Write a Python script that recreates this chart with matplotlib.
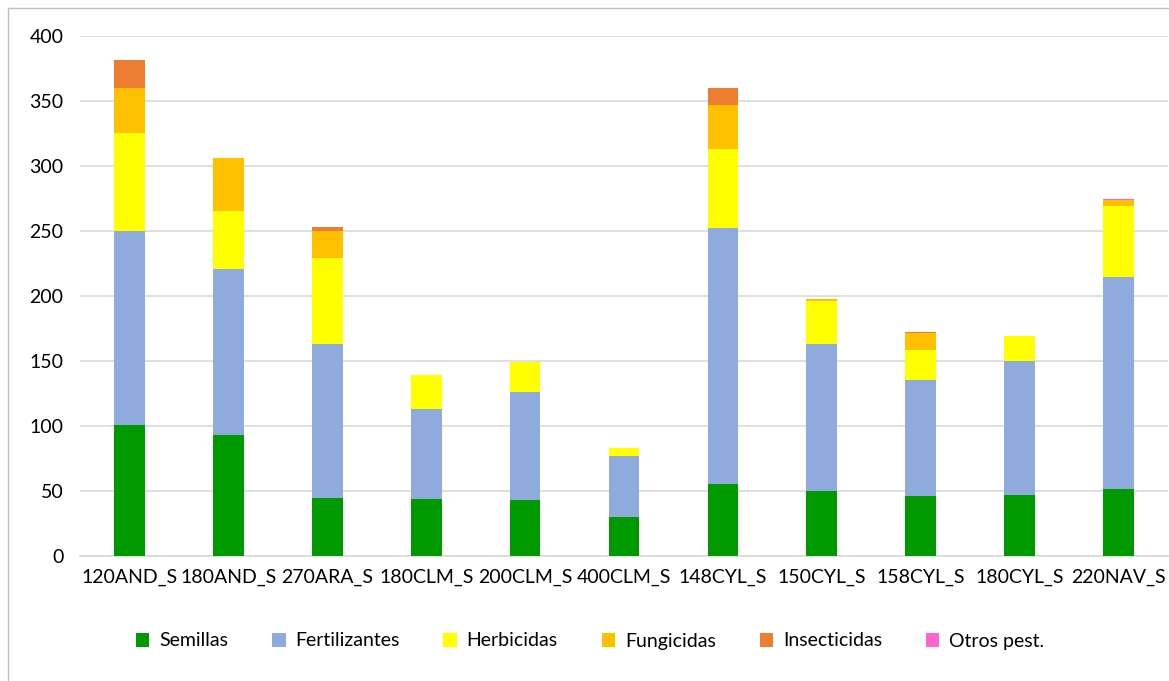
import matplotlib
matplotlib.use("Agg")
import matplotlib.pyplot as plt
import numpy as np

categories = ["120AND_S", "180AND_S", "270ARA_S", "180CLM_S", "200CLM_S", "400CLM_S",
              "148CYL_S", "150CYL_S", "158CYL_S", "180CYL_S", "220NAV_S"]
semillas = [100.5, 92.8, 44.4, 43.6, 43.1, 30.0, 55.4, 49.8, 45.9, 46.7, 51.8]
fertilizantes = [149.5, 127.7, 118.2, 69.2, 82.8, 47.2, 196.4, 113.0, 89.1, 103.1, 162.8]
herbicidas = [75.4, 44.4, 66.6, 26.2, 22.9, 5.9, 61.0, 33.0, 23.2, 19.2, 54.4]
fungicidas = [34.4, 41.3, 20.8, 0.0, 0.0, 0.0, 33.6, 1.5, 13.3, 0.0, 4.6]
insecticidas = [21.5, 0.0, 2.8, 0.0, 0.0, 0.0, 13.6, 0.0, 0.8, 0.0, 0.0]
otros = [0.0, 0.0, 0.0, 0.0, 0.0, 0.0, 0.0, 0.0, 0.0, 0.0, 0.8]

series_names = ["Semillas", "Fertilizantes", "Herbicidas", "Fungicidas", "Insecticidas", "Otros pest."]
series = [semillas, fertilizantes, herbicidas, fungicidas, insecticidas, otros]
colors = ["#009900", "#8FAADC", "#FFFF00", "#FFC000", "#ED7D31", "#FF66CC"]
yticks = [0, 50, 100, 150, 200, 250, 300, 350, 400]

plt.rcParams['font.family'] = ['Lato', 'DejaVu Sans']

fig = plt.figure(figsize=(11.69, 6.81), dpi=100)
ax = fig.add_axes([80/1169, 1-556/681, (1168-80)/1169, (556-35.7)/681])

x = np.arange(len(categories))
bottom = np.zeros(len(categories))
handles = []
for name, vals, c in zip(series_names, series, colors):
    v = np.array(vals)
    b = ax.bar(x, v, width=0.31, bottom=bottom, color=c, label=name, zorder=3)
    handles.append(b)
    bottom += v

ax.set_xlim(-0.5, len(categories) - 0.5)
ax.set_ylim(0, 400)
ax.set_yticks(yticks)
ax.set_xticks(x)
ax.set_xticklabels(categories, fontsize=14, color="#000000")
ax.tick_params(axis='y', labelsize=14, length=0, pad=12)
ax.tick_params(axis='x', length=0, pad=9)
ax.grid(axis='y', color="#d9d9d9", linewidth=1.2, zorder=0)
for s in ["top", "right", "left"]:
    ax.spines[s].set_visible(False)
ax.spines["bottom"].set_color("#d9d9d9")
ax.spines["bottom"].set_linewidth(1.2)

leg = fig.legend(handles=handles, labels=series_names, loc="center", bbox_to_anchor=(590/1169, 1-641/681),
                 ncol=6, frameon=False, fontsize=14, handlelength=0.7, handleheight=0.7,
                 handletextpad=0.5, columnspacing=2.25)

# outer chart border
fig.add_artist(plt.Line2D([8/1169, 8/1169], [0, 1-8/681], color="#bfbfbf", linewidth=1.0))
fig.add_artist(plt.Line2D([8/1169, 1], [1-8/681, 1-8/681], color="#bfbfbf", linewidth=1.0))

fig.savefig("out.png", dpi=100)
